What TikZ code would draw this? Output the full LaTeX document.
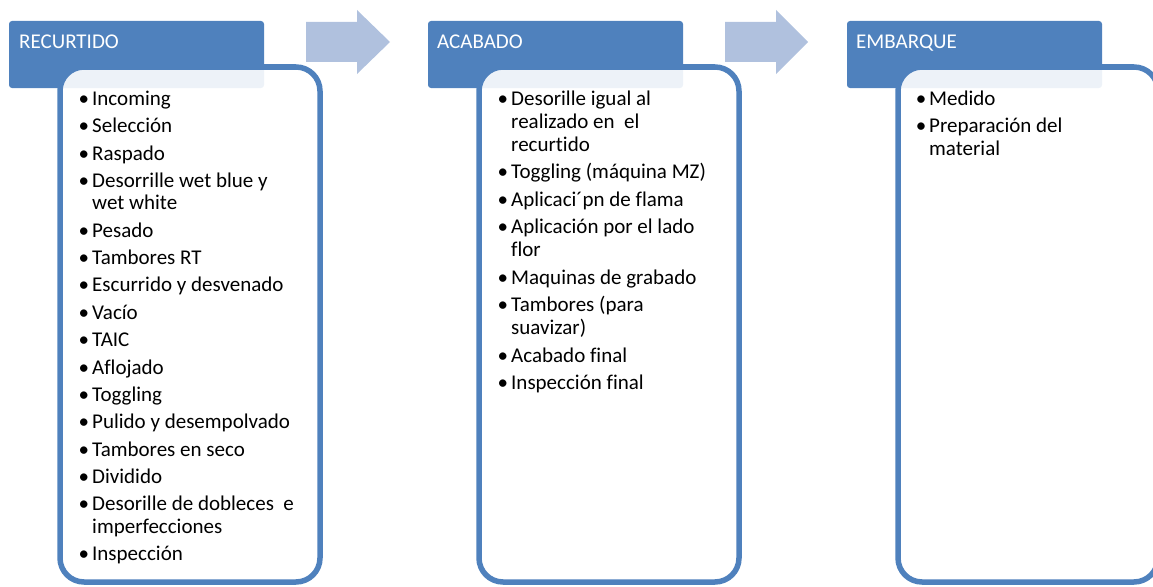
\documentclass[tikz,border=0pt]{standalone}
\usepackage{fontspec}
\setmainfont{Carlito}[Ligatures=NoCommon]
\definecolor{hdr}{RGB}{79,129,189}
\definecolor{arr}{RGB}{176,193,222}
\newcommand{\bul}{\llap{•\kern3pt}}
\begin{document}
\begin{tikzpicture}[x=1pt,y=-1pt,
  header/.style={fill=hdr, rounded corners=3pt},
  panel/.style={draw=hdr, line width=5.5pt, fill=white, fill opacity=0.9, rounded corners=24pt},
  flow/.style={fill=arr},
  htext/.style={anchor=base west, inner sep=0pt, text=white, font=\fontsize{21}{25}\selectfont},
  item/.style={anchor=base west, inner sep=0pt, font=\fontsize{21}{25}\selectfont}]
\useasboundingbox (0,0) rectangle (1153,586);

% flow arrows
\fill[flow] (306,22) -- (357,22) -- (357,10) -- (390,42) -- (357,74) -- (357,62) -- (306,62) -- cycle;
\fill[flow] (725,22) -- (776,22) -- (776,10) -- (808,42) -- (776,74) -- (776,62) -- (725,62) -- cycle;

% headers
\fill[header] (9,21) rectangle (264,88);
\fill[header] (428,21) rectangle (683,88);
\fill[header] (847,21) rectangle (1102,88);

% panels
\draw[panel] (60,67) rectangle (320,582);
\draw[panel] (479,67) rectangle (739,582);
\draw[panel] (898,67) rectangle (1158,582);

% header texts
\node[htext] (h1) at (19,48.5) {RECURTIDO};
\node[htext] (h2) at (437,48.5) {ACABADO};
\node[htext] (h3) at (856,48.5) {EMBARQUE};

% RECURTIDO items
\node[item] (a1) at (92,105) {\bul Incoming};
\node[item] (a2) at (92,132) {\bul Selección};
\node[item] (a3) at (92,160) {\bul Raspado};
\node[item] (a4) at (92,187) {\bul Desorrille wet blue y};
\node[item] (a4b) at (92,209) {wet white};
\node[item] (a5) at (92,237) {\bul Pesado};
\node[item] (a6) at (92,264) {\bul Tambores RT};
\node[item] (a7) at (92,291) {\bul Escurrido y desvenado};
\node[item] (a8) at (92,319) {\bul Vacío};
\node[item] (a9) at (92,346) {\bul TAIC};
\node[item] (a10) at (92,374) {\bul Aflojado};
\node[item] (a11) at (92,401) {\bul Toggling};
\node[item] (a12) at (92,428) {\bul Pulido y desempolvado};
\node[item] (a13) at (92,456) {\bul Tambores en seco};
\node[item] (a14) at (92,483) {\bul Dividido};
\node[item] (a15) at (92,510) {\bul Desorille de dobleces~ e};
\node[item] (a15b) at (92,533) {imperfecciones};
\node[item] (a16) at (92,560) {\bul Inspección};

% ACABADO items
\node[item] (b1) at (511,105) {\bul Desorille igual al};
\node[item] (b1b) at (511,128) {realizado en~ el};
\node[item] (b1c) at (511,151) {recurtido};
\node[item] (b2) at (511,178) {\bul Toggling (máquina MZ)};
\node[item] (b3) at (511,206) {\bul Aplicaci´pn de flama};
\node[item] (b4) at (511,233) {\bul Aplicación por el lado};
\node[item] (b4b) at (511,256) {flor};
\node[item] (b5) at (511,284) {\bul Maquinas de grabado};
\node[item] (b6) at (511,311) {\bul Tambores (para};
\node[item] (b6b) at (511,334) {suavizar)};
\node[item] (b7) at (511,362) {\bul Acabado final};
\node[item] (b8) at (511,389) {\bul Inspección final};

% EMBARQUE items
\node[item] (c1) at (929,105) {\bul Medido};
\node[item] (c2) at (929,132) {\bul Preparación del};
\node[item] (c2b) at (929,155) {material};
\end{tikzpicture}
\end{document}
